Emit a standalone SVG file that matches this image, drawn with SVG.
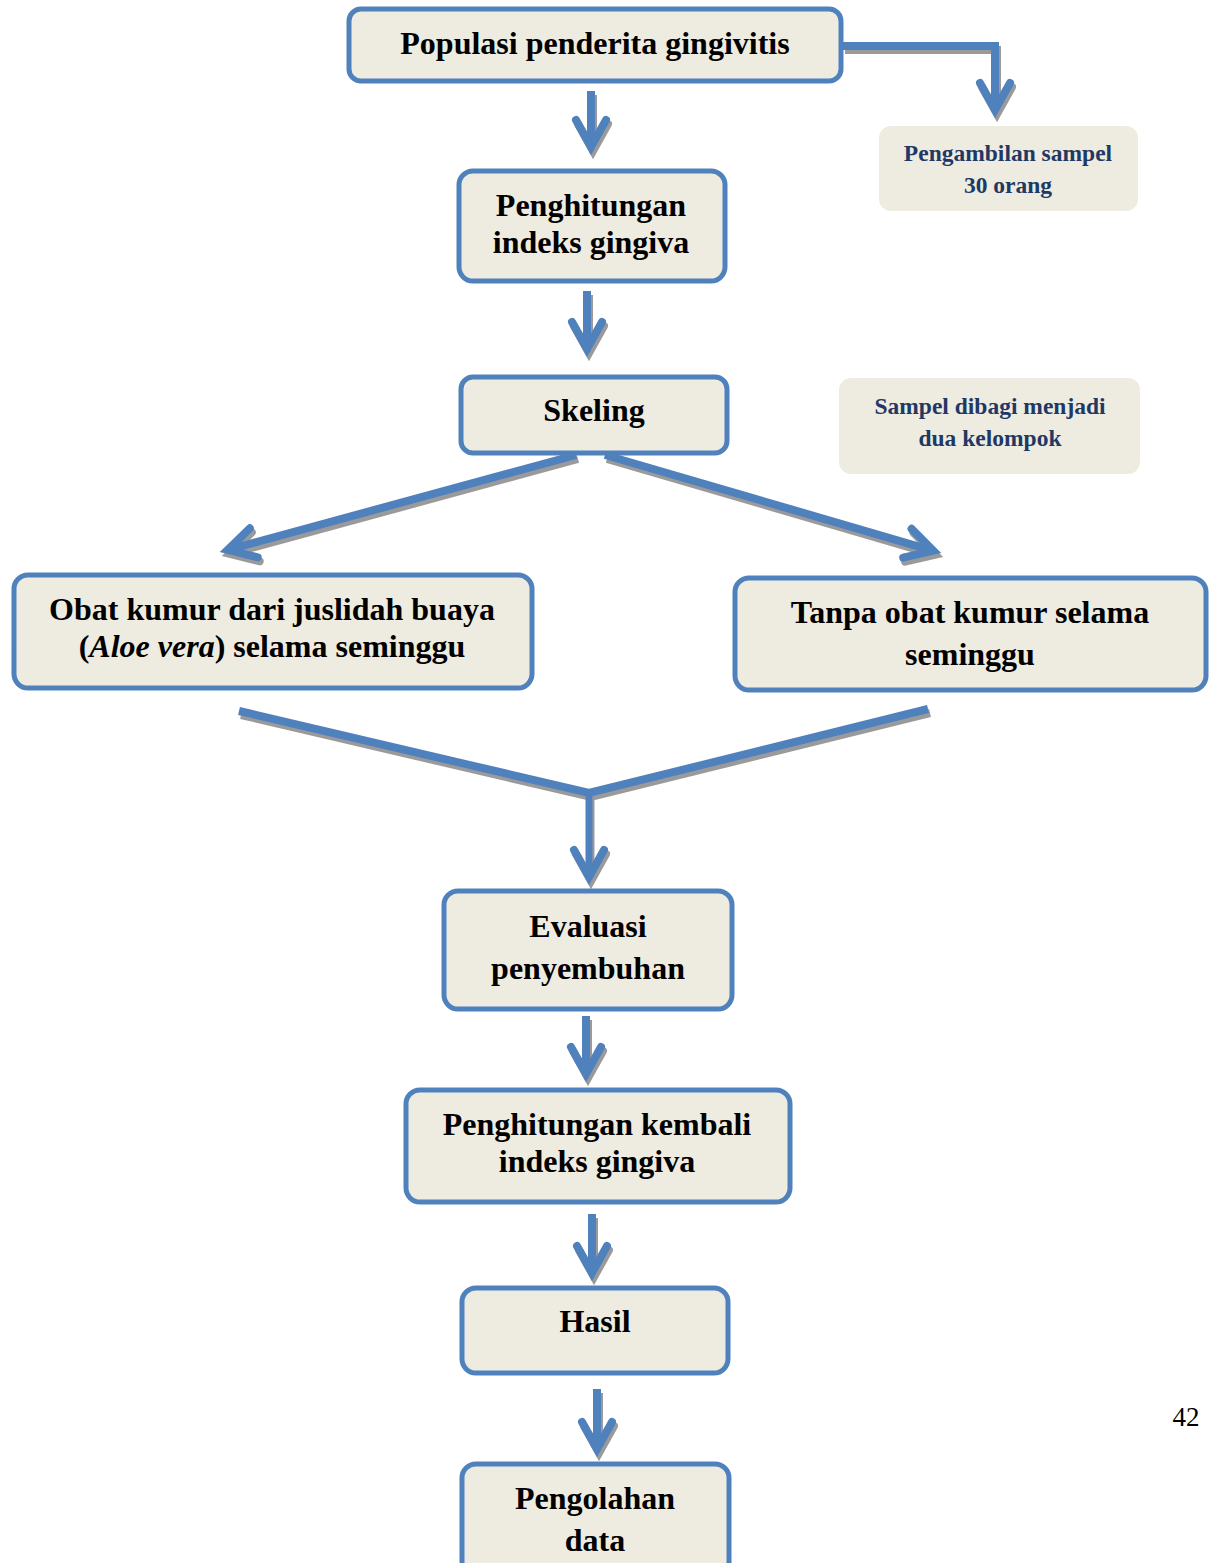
<svg xmlns="http://www.w3.org/2000/svg" width="1209" height="1563" viewBox="0 0 1209 1563">
<style>
.box{fill:#EEEBE0;stroke:#4F81BD;stroke-width:5}
.side{fill:#EEEBE0}
.t{font-family:"Liberation Serif","Times New Roman",serif;font-weight:bold;font-size:32px;fill:#000;text-anchor:middle}
.s{font-family:"Liberation Serif","Times New Roman",serif;font-weight:bold;font-size:23.5px;fill:#1F3864;text-anchor:middle}
.pg{font-family:"Liberation Serif","Times New Roman",serif;font-size:27px;fill:#000;text-anchor:middle}
.c{fill:none;stroke:#4F81BD;stroke-width:8}
.ar{marker-end:url(#head)}
</style>
<defs>
<filter id="sh" x="-20%" y="-20%" width="140%" height="140%">
<feDropShadow dx="2" dy="4" stdDeviation="0.6" flood-color="#9a9a9a" flood-opacity="1"/>
</filter>
<marker id="head" markerUnits="userSpaceOnUse" orient="auto" markerWidth="60" markerHeight="60" refX="0" refY="0" viewBox="-40 -30 60 60" overflow="visible">
<path d="M-27,-15 L0,0 L-27,15" fill="none" stroke="#4F81BD" stroke-width="8" stroke-linecap="round" stroke-linejoin="miter"/>
</marker>
</defs>
<rect width="1209" height="1563" fill="#fff"/>

<g id="connectors" filter="url(#sh)">
<path class="c ar" d="M591,91 V147"/>
<path class="c ar" d="M843,46 H995 V110"/>
<path class="c ar" d="M587,291 V349"/>
<path class="c ar" d="M576,455 L227.7,549.9"/>
<path class="c ar" d="M605,455 L933.3,550.8"/>
<path class="c" d="M239,711 L589,793 L928,709"/>
<path class="c ar" d="M589,793 L589,877" style="stroke-width:7"/>
<path class="c ar" d="M586,1016 V1074"/>
<path class="c ar" d="M592,1214 V1273"/>
<path class="c ar" d="M597,1389 V1449"/>
</g>

<g id="n1"><rect class="box" x="349" y="9" width="492" height="72" rx="12"/><text class="t" x="595" y="54">Populasi penderita gingivitis</text></g>
<g id="n2"><rect class="side" x="879" y="126" width="259" height="85" rx="12"/><text class="s" x="1008" y="161">Pengambilan sampel</text><text class="s" x="1008" y="193">30 orang</text></g>
<g id="n3"><rect class="box" x="459" y="171" width="266" height="110" rx="14"/><text class="t" x="591" y="216">Penghitungan</text><text class="t" x="591" y="253">indeks gingiva</text></g>
<g id="n4"><rect class="box" x="461" y="377" width="266" height="76" rx="12"/><text class="t" x="594" y="421">Skeling</text></g>
<g id="n5"><rect class="side" x="839" y="378" width="301" height="96" rx="12"/><text class="s" x="990" y="414">Sampel dibagi menjadi</text><text class="s" x="990" y="446">dua kelompok</text></g>
<g id="n6"><rect class="box" x="14" y="575" width="518" height="113" rx="14"/><text class="t" x="272" y="620">Obat kumur dari juslidah buaya</text><text class="t" x="272" y="657">(<tspan font-style="italic">Aloe vera</tspan>) selama seminggu</text></g>
<g id="n7"><rect class="box" x="735" y="578" width="471" height="112" rx="14"/><text class="t" x="970" y="623">Tanpa obat kumur selama</text><text class="t" x="970" y="665">seminggu</text></g>
<g id="n8"><rect class="box" x="444" y="891" width="288" height="118" rx="14"/><text class="t" x="588" y="937">Evaluasi</text><text class="t" x="588" y="979">penyembuhan</text></g>
<g id="n9"><rect class="box" x="406" y="1090" width="384" height="112" rx="14"/><text class="t" x="597" y="1135">Penghitungan kembali</text><text class="t" x="597" y="1172">indeks gingiva</text></g>
<g id="n10"><rect class="box" x="462" y="1288" width="266" height="85" rx="14"/><text class="t" x="595" y="1332">Hasil</text></g>
<g id="n11"><rect class="box" x="462" y="1464" width="267" height="112" rx="14"/><text class="t" x="595" y="1509">Pengolahan</text><text class="t" x="595" y="1551">data</text></g>
<text class="pg" x="1186" y="1426">42</text>
</svg>
